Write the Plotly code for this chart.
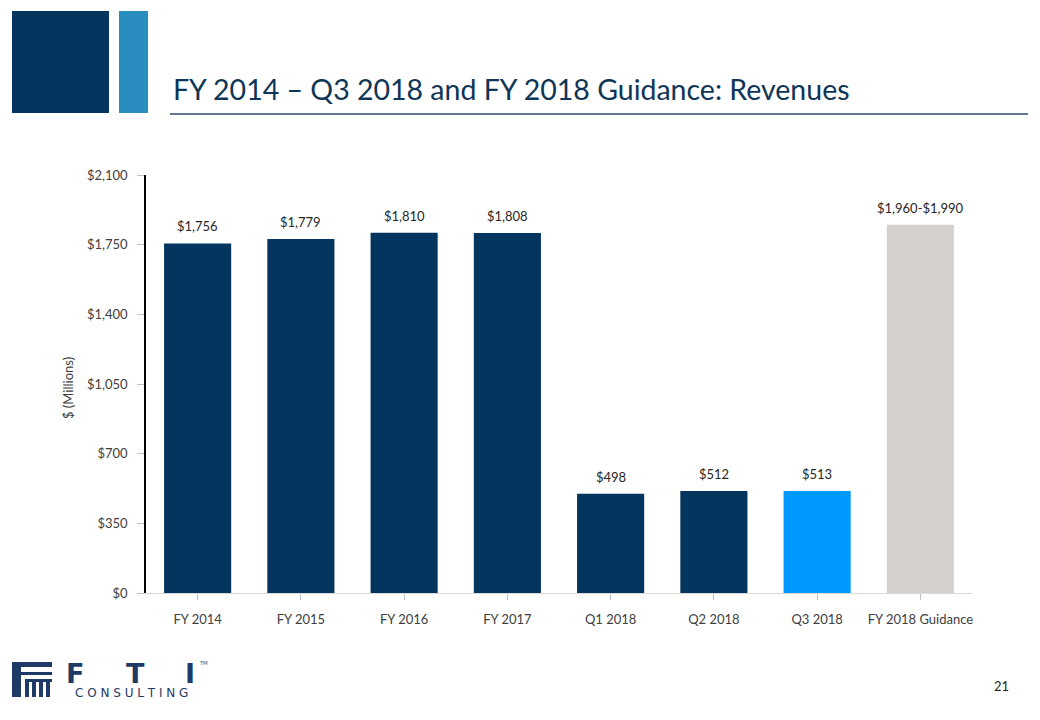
import plotly.graph_objects as go

categories = ["FY 2014", "FY 2015", "FY 2016", "FY 2017", "Q1 2018", "Q2 2018", "Q3 2018", "FY 2018 Guidance"]
revenues = [1756, 1779, 1810, 1808, 498, 512, 513, 1850]
labels = ["$1,756", "$1,779", "$1,810", "$1,808", "$498", "$512", "$513", "$1,960-$1,990"]
bar_colors = ["#03355F"] * 6 + ["#0099FF", "#D3D0CD"]
y_ticks = [0, 350, 700, 1050, 1400, 1750, 2100]
y_tick_labels = ["$0", "$350", "$700", "$1,050", "$1,400", "$1,750", "$2,100"]

FONT = "Lato, 'Open Sans', sans-serif"
W, H = 1040, 720
L, R, T, B = 146, 972, 175, 593


def px(x):
    return (x - L) / (R - L)


def py(y):
    return (B - y) / (B - T)


fig = go.Figure()
fig.add_trace(go.Bar(
    x=categories, y=revenues, marker=dict(color=bar_colors, line=dict(width=0)),
    width=0.65, hoverinfo="skip",
))

annotations = []
for c, v, t in zip(categories, revenues, labels):
    annotations.append(dict(x=c, y=v, text=t, showarrow=False, yshift=17,
                            font=dict(size=13, color="#262626", family=FONT)))

# title
annotations.append(dict(xref="paper", yref="paper", x=px(171), y=py(89), xanchor="left", yanchor="middle",
                        text="FY 2014 – Q3 2018 and FY 2018 Guidance: Revenues", showarrow=False,
                        font=dict(size=28.5, color="#0F3557", family=FONT)))
# y-axis title
annotations.append(dict(xref="paper", yref="paper", x=px(68), y=py(388), xanchor="center", yanchor="middle",
                        text="$ (Millions)", textangle=-90, showarrow=False,
                        font=dict(size=13, color="#404040", family=FONT)))
# page number
annotations.append(dict(xref="paper", yref="paper", x=px(1001), y=py(686), xanchor="center", yanchor="middle",
                        text="21", showarrow=False, font=dict(size=13, color="#262626", family=FONT)))
# logo text
for ch, xx in [("F", 75), ("T", 135), ("I", 190)]:
    annotations.append(dict(xref="paper", yref="paper", x=px(xx), y=py(673), xanchor="center", yanchor="middle",
                            text="<b>" + ch + "</b>", showarrow=False,
                            font=dict(size=27, color="#1E3A66", family="'DejaVu Sans', sans-serif")))
annotations.append(dict(xref="paper", yref="paper", x=px(204), y=py(663), xanchor="center", yanchor="middle",
                        text="TM", showarrow=False, font=dict(size=5, color="#1E3A66", family=FONT)))
annotations.append(dict(xref="paper", yref="paper", x=px(131), y=py(693), xanchor="center", yanchor="middle",
                        text="C O N S U L T I N G", showarrow=False,
                        font=dict(size=12, color="#1E3A66", family="'DejaVu Sans', sans-serif")))

shapes = [
    # header squares
    dict(type="rect", xref="paper", yref="paper", x0=px(12), x1=px(109), y0=py(11), y1=py(113),
         fillcolor="#05355E", line=dict(width=0), layer="above"),
    dict(type="rect", xref="paper", yref="paper", x0=px(119), x1=px(148), y0=py(11), y1=py(113),
         fillcolor="#2A8DC0", line=dict(width=0), layer="above"),
    # title underline
    dict(type="line", xref="paper", yref="paper", x0=px(170), x1=px(1028), y0=py(114), y1=py(114),
         line=dict(color="#2E4A6B", width=1.5)),
    # logo icon
    dict(type="rect", xref="paper", yref="paper", x0=px(12), x1=px(52), y0=py(662), y1=py(667),
         fillcolor="#1E3A66", line=dict(width=0)),
    dict(type="rect", xref="paper", yref="paper", x0=px(12), x1=px(21), y0=py(667), y1=py(697),
         fillcolor="#1E3A66", line=dict(width=0)),
    dict(type="rect", xref="paper", yref="paper", x0=px(21), x1=px(52), y0=py(672), y1=py(675),
         fillcolor="#1E3A66", line=dict(width=0)),
]
for xx in [25, 32, 39, 46]:
    shapes.append(dict(type="rect", xref="paper", yref="paper", x0=px(xx), x1=px(xx + 4), y0=py(679), y1=py(697),
                       fillcolor="#1E3A66", line=dict(width=0)))
shapes.append(dict(type="rect", xref="paper", yref="paper", x0=px(25), x1=px(52), y0=py(679), y1=py(682),
                   fillcolor="#1E3A66", line=dict(width=0)))

fig.update_layout(
    width=W, height=H, autosize=False,
    margin=dict(l=L, r=W - R, t=T, b=H - B, pad=0),
    paper_bgcolor="white", plot_bgcolor="white",
    showlegend=False, bargap=0.35,
    font=dict(family=FONT, size=13, color="#404040"),
    annotations=annotations, shapes=shapes,
    xaxis=dict(
        categoryorder="array", categoryarray=categories,
        showline=True, linecolor="#D9D9D9", linewidth=1,
        ticks="outside", ticklen=6, tickcolor="#BFBFBF", tickwidth=1,
        ticklabelstandoff=8,
        tickfont=dict(size=13, color="#404040", family=FONT),
        showgrid=False, zeroline=False, fixedrange=True,
    ),
    yaxis=dict(
        range=[0, 2100], tickvals=y_ticks, ticktext=y_tick_labels,
        showline=True, linecolor="#000000", linewidth=1.5,
        ticks="outside", ticklen=7, tickcolor="#BFBFBF", tickwidth=1,
        ticklabelstandoff=7,
        tickfont=dict(size=13, color="#404040", family=FONT),
        showgrid=False, zeroline=False, fixedrange=True,
    ),
)

fig.write_html("out.html", config={"displayModeBar": False})
